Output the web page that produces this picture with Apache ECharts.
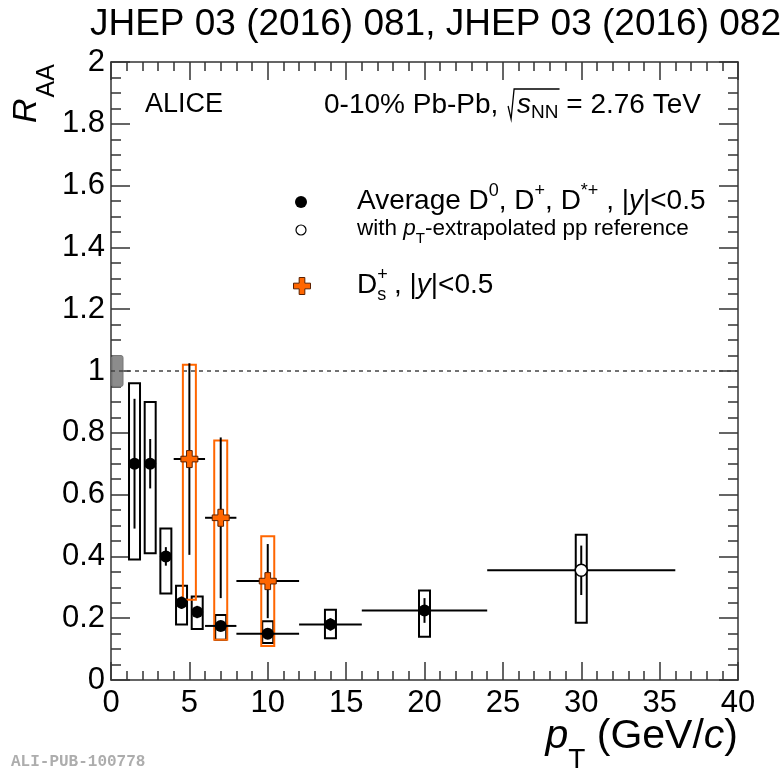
<!DOCTYPE html>
<html>
<head>
<meta charset="utf-8">
<script src="https://cdn.jsdelivr.net/npm/echarts@6/dist/echarts.min.js"></script>
<style>
  html, body { margin: 0; padding: 0; background: #fff; }
  #chart { width: 784px; height: 771px; }
</style>
</head>
<body>
<div id="chart"></div>
<script>
// ---- Average D0, D+, D*+ nuclear modification factor, 0-10% Pb-Pb ----
const avgPt      = [1.5, 2.5, 3.5, 4.5, 5.5, 7, 10, 14, 20];
const avgPtErr   = [0.33, 0.33, 0.33, 0.33, 0.33, 1, 2, 2, 4];
const avgRaa     = [0.70, 0.70, 0.40, 0.25, 0.22, 0.175, 0.15, 0.18, 0.225];
const avgStat    = [0.21, 0.08, 0.03, 0.02, 0.02, 0.01, 0.01, 0.02, 0.04];
const avgSystLo  = [0.39, 0.41, 0.28, 0.18, 0.165, 0.13, 0.12, 0.135, 0.14];
const avgSystHi  = [0.96, 0.90, 0.49, 0.305, 0.27, 0.21, 0.19, 0.227, 0.29];

// ---- Same average with pT-extrapolated pp reference ----
const extPt      = [30];
const extPtErr   = [6];
const extRaa     = [0.355];
const extStat    = [0.08];
const extSystLo  = [0.185];
const extSystHi  = [0.47];

// ---- Ds+ ----
const dsPt       = [5, 7, 10];
const dsPtErr    = [1, 1, 2];
const dsRaa      = [0.715, 0.525, 0.32];
const dsStat     = [0.31, 0.26, 0.12];
const dsSystLo   = [0.26, 0.13, 0.11];
const dsSystHi   = [1.02, 0.775, 0.465];

// ---- Normalisation uncertainty drawn at RAA = 1 ----
const normUnc    = [0.05];

// ---- Axes ----
const xRange = [0, 40], xStep = 5, xMinor = 5;
const yRange = [0, 2],  yStep = 0.2, yMinor = 4;

const FONT = '"Liberation Sans", Arial, Helvetica, sans-serif';
const AXIS_COLOR = '#333';
const ORANGE = '#ff6600';

const chart = echarts.init(document.getElementById('chart'), null, { renderer: 'canvas' });

// text measuring for composed labels (sub/superscripts)
const mctx = document.createElement('canvas').getContext('2d');
function tw(t, size, italic) {
  mctx.font = (italic ? 'italic ' : '') + size + 'px ' + FONT;
  return mctx.measureText(t).width;
}
function txt(x, y, t, size, italic, fill, family, weight) {
  return {
    type: 'text', x: x, y: y, silent: true, z: 100,
    style: {
      text: t, fontSize: size, fontFamily: family || FONT,
      fontStyle: italic ? 'italic' : 'normal', fontWeight: weight || 'normal',
      fill: fill || '#000', align: 'left', verticalAlign: 'middle'
    }
  };
}
// lays out a sequence of text pieces on one line; pieces with adv:false do not advance the pen
function run(x, y, segs, align) {
  let w = 0;
  segs.forEach(s => { s.w = tw(s.t, s.s, s.it); if (s.adv !== false) w += s.w; });
  let cx = align === 'right' ? x - w : x;
  const els = [];
  segs.forEach(s => {
    els.push(txt(cx, y + (s.dy || 0), s.t, s.s, s.it));
    if (s.adv !== false) cx += s.w;
  });
  return { els: els, start: align === 'right' ? x - w : x, end: cx };
}
function crossPoints(cx, cy, size) {
  const a = size / 2, b = size / 6;
  return [[cx - b, cy - a], [cx + b, cy - a], [cx + b, cy - b], [cx + a, cy - b], [cx + a, cy + b],
          [cx + b, cy + b], [cx + b, cy + a], [cx - b, cy + a], [cx - b, cy + b], [cx - a, cy + b],
          [cx - a, cy - b], [cx - b, cy - b]];
}

// ---- series data ----
const avgBoxData = avgPt.map((x, i) => [x, avgSystLo[i], avgSystHi[i]])
  .concat(extPt.map((x, i) => [x, extSystLo[i], extSystHi[i]]));
const dsBoxData = dsPt.map((x, i) => [x, dsSystLo[i], dsSystHi[i]]);
const errData = avgPt.map((x, i) => [x, avgRaa[i], avgPtErr[i], avgStat[i]])
  .concat(extPt.map((x, i) => [x, extRaa[i], extPtErr[i], extStat[i]]))
  .concat(dsPt.map((x, i) => [x, dsRaa[i], dsPtErr[i], dsStat[i]]));

function boxRenderer(halfW, color) {
  return function (params, api) {
    const x = api.value(0), lo = api.value(1), hi = api.value(2);
    const top = api.coord([x, hi]);
    const bot = api.coord([x, lo]);
    return {
      type: 'rect',
      shape: { x: top[0] - halfW, y: top[1], width: 2 * halfW, height: bot[1] - top[1] },
      style: { fill: 'none', stroke: color, lineWidth: 2 }
    };
  };
}
function errRenderer(params, api) {
  const x = api.value(0), y = api.value(1), xe = api.value(2), st = api.value(3);
  const l = api.coord([x - xe, y]), r = api.coord([x + xe, y]);
  const t = api.coord([x, y + st]), b = api.coord([x, y - st]);
  const st2 = { stroke: '#000', lineWidth: 2 };
  return {
    type: 'group',
    children: [
      { type: 'line', shape: { x1: l[0], y1: l[1], x2: r[0], y2: r[1] }, style: st2 },
      { type: 'line', shape: { x1: t[0], y1: t[1], x2: b[0], y2: b[1] }, style: st2 }
    ]
  };
}
function normRenderer(params, api) {
  const u = api.value(0);
  const top = api.coord([0, 1 + u]);
  const bot = api.coord([0, 1 - u]);
  return {
    type: 'rect',
    shape: { x: top[0] + 1, y: top[1], width: 11, height: bot[1] - top[1], r: 2 },
    style: { fill: '#8c8c8c', stroke: '#777', lineWidth: 1 }
  };
}

const tickStyle = { color: AXIS_COLOR, width: 1.5 };
function xAxisDef(pos, labels) {
  return {
    type: 'value', position: pos, min: xRange[0], max: xRange[1], interval: xStep,
    axisLine: { show: true, onZero: false, lineStyle: tickStyle },
    axisTick: { show: true, inside: true, length: 18, lineStyle: tickStyle },
    minorTick: { show: true, splitNumber: xMinor, length: 9, lineStyle: tickStyle },
    axisLabel: { show: labels, fontSize: 31, fontFamily: FONT, color: '#000', margin: 8 },
    splitLine: { show: false }, minorSplitLine: { show: false }
  };
}
function yAxisDef(pos, labels) {
  return {
    type: 'value', position: pos, min: yRange[0], max: yRange[1], interval: yStep,
    axisLine: { show: true, onZero: false, lineStyle: tickStyle },
    axisTick: { show: true, inside: true, length: 19, lineStyle: tickStyle },
    minorTick: { show: true, splitNumber: yMinor, length: 10, lineStyle: tickStyle },
    axisLabel: { show: labels, fontSize: 31, fontFamily: FONT, color: '#000', margin: 6 },
    splitLine: { show: false }, minorSplitLine: { show: false }
  };
}

// ---- text and legend ----
const graphics = [];
graphics.push(...run(781, 25, [{ t: 'JHEP 03 (2016) 081, JHEP 03 (2016) 082', s: 37 }], 'right').els);
graphics.push(txt(145, 105, 'ALICE', 27));

// 0-10% Pb-Pb, sqrt(s_NN) = 2.76 TeV
const e1 = run(324, 105, [{ t: '0-10% Pb-Pb, ', s: 28 }]);
graphics.push(...e1.els);
const sqX = e1.end + 2;
const e2 = run(sqX + 9, 105, [{ t: 's', s: 28, it: true }, { t: 'NN', s: 19, dy: 8 }]);
graphics.push(...e2.els);
graphics.push({
  type: 'polyline', silent: true, z: 100,
  shape: { points: [[sqX, 106], [sqX + 3, 119], [sqX + 6, 89], [e2.end + 1, 89]] },
  style: { stroke: '#000', lineWidth: 1.3, fill: 'none' }
});
graphics.push(...run(e2.end, 105, [{ t: ' = 2.76 TeV', s: 28 }]).els);

// legend entries
graphics.push({ type: 'circle', silent: true, z: 100, shape: { cx: 301, cy: 202, r: 6 }, style: { fill: '#000' } });
graphics.push(...run(357, 201, [
  { t: 'Average D', s: 28 }, { t: '0', s: 18, dy: -10 },
  { t: ', D', s: 28 }, { t: '+', s: 18, dy: -10 },
  { t: ', D', s: 28 }, { t: '*+', s: 18, dy: -10 },
  { t: ' , |', s: 28 }, { t: 'y', s: 28, it: true }, { t: '|<0.5', s: 28 }
]).els);
graphics.push({ type: 'circle', silent: true, z: 100, shape: { cx: 301, cy: 230, r: 5 },
  style: { fill: '#fff', stroke: '#000', lineWidth: 1.2 } });
graphics.push(...run(357, 229, [
  { t: 'with ', s: 22.5 }, { t: 'p', s: 22.5, it: true }, { t: 'T', s: 15, dy: 10 },
  { t: '-extrapolated pp reference', s: 22.5 }
]).els);
graphics.push({ type: 'polygon', silent: true, z: 100, shape: { points: crossPoints(302, 286, 17) },
  style: { fill: ORANGE, stroke: '#5a2000', lineWidth: 1 } });
graphics.push(...run(357, 285, [
  { t: 'D', s: 28 }, { t: '+', s: 18, dy: -10, adv: false }, { t: 's', s: 18, dy: 10 },
  { t: ' , |', s: 28 }, { t: 'y', s: 28, it: true }, { t: '|<0.5', s: 28 }
]).els);

// axis titles
graphics.push(...run(738, 737, [
  { t: 'p', s: 41, it: true }, { t: 'T', s: 28, dy: 23 },
  { t: ' (GeV/', s: 41 }, { t: 'c', s: 41, it: true }, { t: ')', s: 41 }
], 'right').els);
const rW = tw('R', 34, true);
graphics.push({
  type: 'group', x: 0, y: 123, rotation: Math.PI / 2, silent: true, z: 100,
  children: [
    txt(0, 27, 'R', 34, true),
    txt(rW + 1, 47, 'AA', 25, false)
  ]
});
graphics.push(txt(11, 762, 'ALI-PUB-100778', 16, false, '#adadad', '"Liberation Mono", "DejaVu Sans Mono", monospace', 'bold'));

const option = {
  animation: false,
  backgroundColor: '#fff',
  grid: { left: 111, right: 46, top: 62, bottom: 91, containLabel: false },
  xAxis: [xAxisDef('bottom', true), xAxisDef('top', false)],
  yAxis: [yAxisDef('left', true), yAxisDef('right', false)],
  series: [
    {
      type: 'custom', name: 'norm', xAxisIndex: 0, yAxisIndex: 0, z: 3,
      renderItem: normRenderer, data: normUnc.map(u => [u]),
      markLine: {
        silent: true, symbol: ['none', 'none'], label: { show: false },
        lineStyle: { type: [4, 4], color: '#444', width: 1.5 },
        data: [{ yAxis: 1 }]
      }
    },
    { type: 'custom', name: 'systAvg', z: 4, renderItem: boxRenderer(5.5, '#000'), data: avgBoxData },
    { type: 'custom', name: 'systDs', z: 5, renderItem: boxRenderer(6.5, ORANGE), data: dsBoxData },
    { type: 'custom', name: 'errors', z: 6, renderItem: errRenderer, data: errData },
    {
      type: 'scatter', name: 'Average D', z: 7, symbol: 'circle', symbolSize: 12,
      itemStyle: { color: '#000', opacity: 1 },
      data: avgPt.map((x, i) => [x, avgRaa[i]])
    },
    {
      type: 'scatter', name: 'extrapolated', z: 7, symbol: 'circle', symbolSize: 12,
      itemStyle: { color: '#fff', borderColor: '#000', borderWidth: 1.5, opacity: 1 },
      data: extPt.map((x, i) => [x, extRaa[i]])
    },
    {
      type: 'scatter', name: 'Ds', z: 8, symbol: 'path://M3,0H6V3H9V6H6V9H3V6H0V3H3Z', symbolSize: 17,
      itemStyle: { color: ORANGE, borderColor: '#5a2000', borderWidth: 1, opacity: 1 },
      data: dsPt.map((x, i) => [x, dsRaa[i]])
    }
  ],
  graphic: { elements: graphics }
};
chart.setOption(option);
</script>
</body>
</html>
